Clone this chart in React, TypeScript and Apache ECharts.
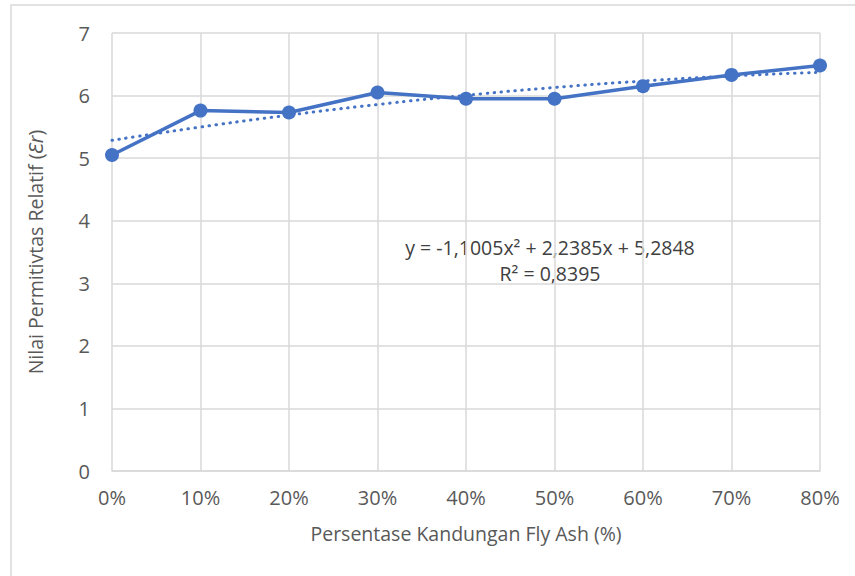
import React, { useEffect, useRef } from "react";
import * as echarts from "echarts";

const categories = ["0%", "10%", "20%", "30%", "40%", "50%", "60%", "70%", "80%"];
const permittivity = [5.05, 5.76, 5.73, 6.05, 5.95, 5.95, 6.15, 6.33, 6.48];
// polynomial trendline values read at each category (y = -1,1005x² + 2,2385x + 5,2848)
const trendValues = [5.285, 5.497, 5.688, 5.857, 6.004, 6.129, 6.232, 6.313, 6.372];
const equationText = "y = -1,1005x² + 2,2385x + 5,2848";
const r2Text = "R² = 0,8395";

const FONT = "'Open Sans', 'Noto Sans', sans-serif";

export default function App() {
  const ref = useRef<HTMLDivElement>(null);
  useEffect(() => {
    document.body.style.margin = "0";
    const chart = echarts.init(ref.current!, null, { renderer: "svg" });
    chart.setOption({
      animation: false,
      backgroundColor: "#ffffff",
      textStyle: { fontFamily: FONT },
      grid: { left: 112, right: 35, top: 33, bottom: 105, containLabel: false },
      xAxis: {
        type: "category",
        data: categories,
        boundaryGap: false,
        axisLine: { lineStyle: { color: "#d9d9d9", width: 1.5 } },
        axisTick: { show: false },
        axisLabel: { color: "#595959", fontSize: 20, margin: 16, fontFamily: FONT },
        splitLine: { show: true, lineStyle: { color: "#d9d9d9", width: 1.5 } },
        name: "Persentase Kandungan Fly Ash (%)",
        nameLocation: "middle",
        nameGap: 52,
        nameTextStyle: { color: "#595959", fontSize: 19.5, fontFamily: FONT },
      },
      yAxis: {
        type: "value",
        min: 0,
        max: 7,
        interval: 1,
        axisLine: { show: false },
        axisTick: { show: false },
        axisLabel: { color: "#595959", fontSize: 20, margin: 22, fontFamily: FONT },
        splitLine: { show: true, lineStyle: { color: "#d9d9d9", width: 1.5 } },
        name: "Nilai Permitivtas Relatif ({i|Ɛr})",
        nameLocation: "middle",
        nameGap: 67,
        nameRotate: 90,
        nameTextStyle: {
          color: "#595959",
          fontSize: 19.5,
          fontFamily: FONT,
          rich: { i: { fontStyle: "italic", fontSize: 19.5, color: "#595959", fontFamily: FONT } },
        },
      },
      series: [
        {
          name: "Trendline",
          type: "line",
          data: trendValues,
          smooth: true,
          showSymbol: false,
          symbol: "none",
          lineStyle: { color: "#4472C4", width: 3, type: [0.5, 6.5], cap: "round" },
          z: 2,
        },
        {
          name: "Permitivitas",
          type: "line",
          data: permittivity,
          symbol: "circle",
          symbolSize: 14,
          itemStyle: { color: "#4472C4" },
          lineStyle: { color: "#4472C4", width: 3.5 },
          z: 3,
        },
      ],
      graphic: [
        {
          type: "rect",
          shape: { x: 11, y: 5, width: 900, height: 700 },
          style: { fill: "none", stroke: "#d9d9d9", lineWidth: 1.5 },
          silent: true,
          z: -1,
        },
        {
          type: "text",
          x: 550,
          y: 247,
          style: {
            text: equationText,
            textAlign: "center",
            textVerticalAlign: "middle",
            fill: "#404040",
            fontSize: 19.5,
            fontFamily: FONT,
          },
        },
        {
          type: "text",
          x: 550,
          y: 273,
          style: {
            text: r2Text,
            textAlign: "center",
            textVerticalAlign: "middle",
            fill: "#404040",
            fontSize: 19.5,
            fontFamily: FONT,
          },
        },
      ],
    });
    return () => chart.dispose();
  }, []);
  return <div ref={ref} style={{ width: 855, height: 576 }} />;
}
